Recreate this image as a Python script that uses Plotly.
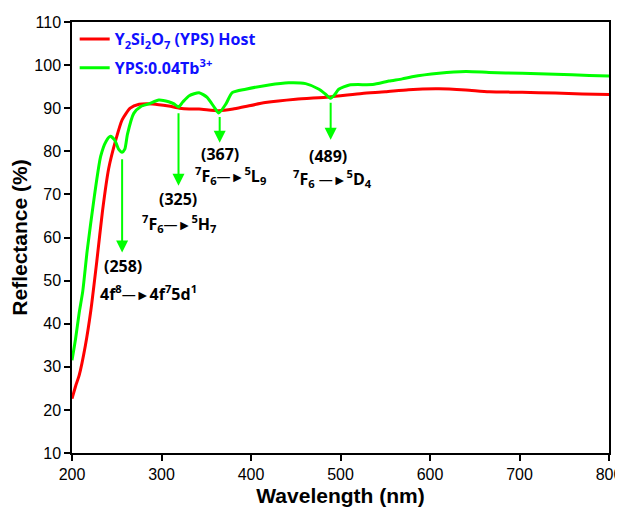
import plotly.graph_objects as go

# ---- data ----
wl_host = [200, 204, 208, 215, 221, 228, 234, 241, 249, 256, 265, 275, 290, 308, 320, 331,
           342, 364, 380, 394, 416, 450, 487, 524, 550, 576, 610, 640, 666, 703, 740, 770, 800]
r_host = [22.6, 25.5, 28.0, 35.0, 43.0, 55.0, 66.0, 76.0, 82.7, 87.3, 90.0, 90.9, 91.0, 90.5, 90.0, 89.8,
          89.8, 89.4, 89.8, 90.4, 91.3, 92.1, 92.6, 93.4, 93.8, 94.3, 94.5, 94.2, 93.8, 93.7, 93.5, 93.3, 93.2]

wl_tb = [200, 204, 208, 212, 217, 225, 232, 238, 243, 248, 252, 256, 259, 262, 269, 277, 286, 297,
         308, 314, 319, 324, 331, 342, 351, 359, 364, 372, 379, 394, 420, 442, 461, 476, 483, 489,
         493, 498, 510, 536, 554, 569, 580, 610, 640, 666, 703, 740, 778, 800]
r_tb = [31.5, 36.5, 42.5, 47.5, 57.0, 69.6, 78.8, 82.3, 83.5, 82.5, 80.5, 79.8, 80.5, 84.0, 88.8, 90.4, 91.0, 91.9,
        91.5, 91.0, 90.3, 91.5, 92.9, 93.6, 92.5, 90.2, 88.9, 91.0, 93.6, 94.4, 95.4, 95.9, 95.7, 94.4, 93.3, 92.3,
        93.0, 94.4, 95.4, 95.5, 96.3, 96.8, 97.3, 98.1, 98.5, 98.3, 98.1, 97.9, 97.6, 97.5]

x_ticks = [200, 300, 400, 500, 600, 700, 800]
y_ticks = [10, 20, 30, 40, 50, 60, 70, 80, 90, 100, 110]

# peak annotations
peak_labels = ["(258)", "(325)", "(367)", "(489)"]
arrow_x = [256, 319, 365, 489]
arrow_top = [78.5, 89.2, 88.3, 91.6]
arrow_tip = [56.5, 72.0, 82.0, 82.7]
peak_label_x = [257, 318, 365, 486]
peak_label_y = [53.4, 69.0, 79.4, 79.0]
arr = "<span style='font-weight:normal;font-size:14px'>—►</span>"
trans_labels = ["4f<sup>8</sup>" + arr + "4f<sup>7</sup>5d<sup>1</sup>",
                "<sup>7</sup>F<sub>6</sub>" + arr + "<sup>5</sup>H<sub>7</sub>",
                "<sup>7</sup>F<sub>6</sub>" + arr + "<sup>5</sup>L<sub>9</sub>",
                "<sup>7</sup>F<sub>6</sub> " + arr + "<sup>5</sup>D<sub>4</sub>"]
trans_x = [286, 320, 377, 491]
trans_y = [47.2, 63.3, 74.4, 73.6]

GREEN = "#00ff00"
RED = "#ff0000"
LBL_FONT = "Open Sans"

fig = go.Figure()
fig.add_trace(go.Scatter(x=wl_host, y=r_host, mode="lines", legendgroup="a",
                         line=dict(color=RED, width=3, shape="spline", smoothing=0.6),
                         name="Y<sub>2</sub>Si<sub>2</sub>O<sub>7</sub> (YPS) Host"))
fig.add_trace(go.Scatter(x=wl_tb, y=r_tb, mode="lines", legendgroup="b",
                         line=dict(color=GREEN, width=3, shape="spline", smoothing=0.6),
                         name="YPS:0.04Tb<sup>3+</sup>"))

for i in range(len(arrow_x)):
    fig.add_annotation(x=arrow_x[i], y=arrow_tip[i], ax=arrow_x[i], ay=arrow_top[i],
                       xref="x", yref="y", axref="x", ayref="y", text="",
                       showarrow=True, arrowhead=2, arrowsize=1.2, arrowwidth=2,
                       arrowcolor=GREEN)
    fig.add_annotation(x=peak_label_x[i], y=peak_label_y[i], xref="x", yref="y",
                       text="<b>" + peak_labels[i] + "</b>", showarrow=False,
                       font=dict(family=LBL_FONT, size=16, color="black"))
    fig.add_annotation(x=trans_x[i], y=trans_y[i], xref="x", yref="y",
                       text="<b>" + trans_labels[i] + "</b>", showarrow=False,
                       font=dict(family=LBL_FONT, size=16, color="black"))

axis_common = dict(showgrid=False, zeroline=False, showline=True, linecolor="black",
                   linewidth=1.5, mirror=True, ticks="outside", ticklen=6, tickwidth=1.5,
                   tickcolor="black", automargin=False,
                   tickfont=dict(family="Liberation Sans", size=16, color="black"))

fig.update_xaxes(range=[200, 800], tickvals=x_ticks,
                 title=dict(text="<b>Wavelength (nm)</b>", standoff=6,
                            font=dict(family="Liberation Sans", size=21, color="black")),
                 **axis_common)
fig.update_yaxes(range=[10, 110], tickvals=y_ticks,
                 title=dict(text="<b>Reflectance (%)</b>", standoff=2,
                            font=dict(family="Liberation Sans", size=21, color="black")),
                 **axis_common)

fig.update_layout(width=615, height=502, plot_bgcolor="white", paper_bgcolor="white",
                  margin=dict(l=64, r=14, t=14, b=57),
                  legend=dict(x=0.005, y=1.0, xanchor="left", yanchor="top",
                              bgcolor="rgba(0,0,0,0)", borderwidth=0,
                              font=dict(family=LBL_FONT, size=16, color="#1010ff", weight="bold"),
                              tracegroupgap=5),
                  showlegend=True)

fig.write_html("out.html")
